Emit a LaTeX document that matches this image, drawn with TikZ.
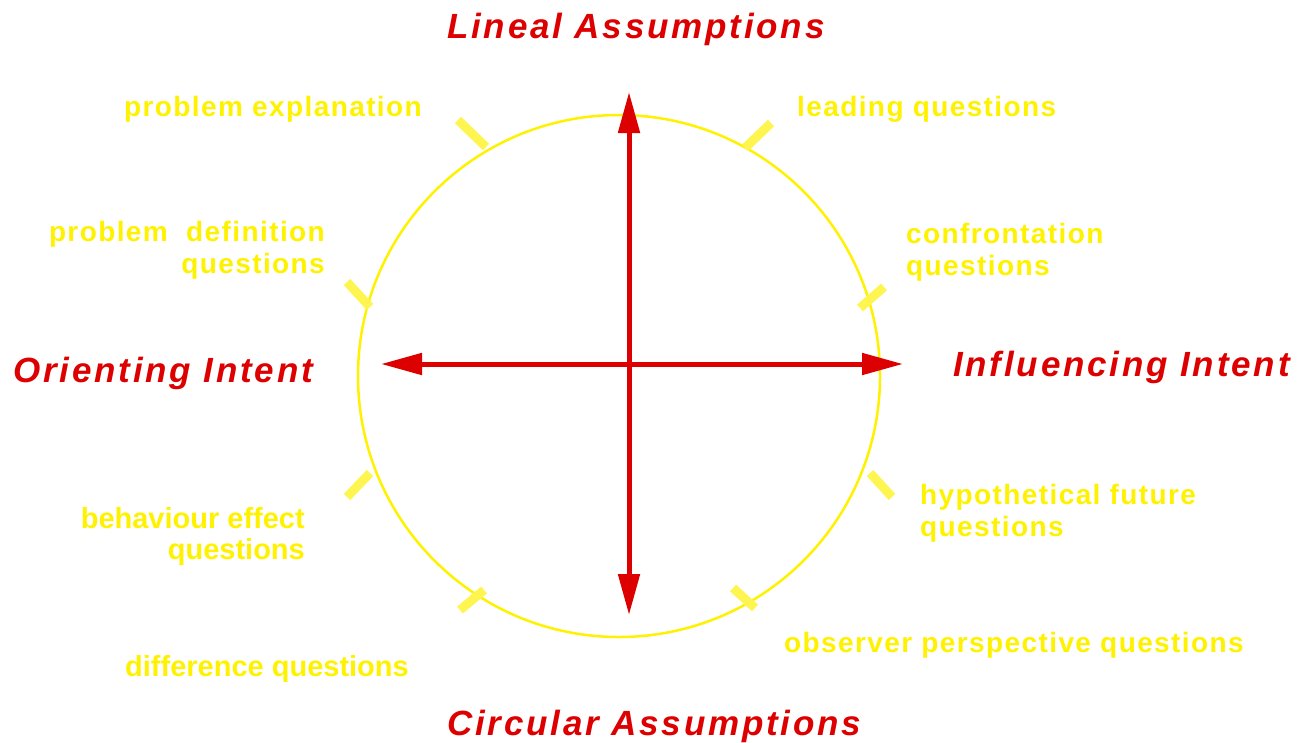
\documentclass[tikz,border=0pt]{standalone}
\usepackage{fontspec}
\setmainfont{Liberation Sans}
\newfontfamily\axisfont[LetterSpace=8]{Liberation Sans}
\newfontfamily\widefont[LetterSpace=5]{Liberation Sans}
\usepackage{xcolor}
\definecolor{axisred}{HTML}{DD0000}
\definecolor{ringyellow}{HTML}{FFF200}
\definecolor{tickyellow}{HTML}{FFF550}
\usetikzlibrary{positioning,arrows.meta}
\tikzset{
  axislabel/.style={text=axisred, inner sep=0pt, font=\fontsize{35}{40}\selectfont\axisfont\bfseries\itshape},
  qlabel/.style   ={text=ringyellow, inner sep=0pt, font=\fontsize{28}{32}\selectfont\widefont\bfseries},
  qlabeln/.style  ={text=ringyellow, inner sep=0pt, font=\fontsize{29}{31}\selectfont\bfseries},
  axisarr/.style  ={{Triangle[length=41pt,width=21pt]}-{Triangle[length=41pt,width=21pt]},
                    draw=axisred, line width=5pt},
  qmark/.style    ={draw=tickyellow, line width=9pt},
  ring/.style     ={circle, draw=ringyellow, line width=2.5pt, minimum size=522pt, inner sep=0pt},
}

\begin{document}
\begin{tikzpicture}[x=1pt, y=-1pt]
  \useasboundingbox (0,0) rectangle (1313,742);
  \node[ring] (wheel) at (619,376) {};
  % axes
  \coordinate (linealend)   at (629,92);
  \coordinate (circularend) at (629,615);
  \coordinate (orientend)   at (381,364);
  \coordinate (influend)    at (903,364);
  \draw[axisarr] (circularend) -- (linealend);
  \draw[axisarr] (orientend) -- (influend);
  \node[axislabel, anchor=base west] (lineal)   at (447,38)  {Lineal Assumptions};
  \node[axislabel, anchor=base west] (circular) at (447,735) {Circular Assumptions};
  \node[axislabel, anchor=base west] (orient)   at (13,382)  {Orienting Intent};
  \node[axislabel, anchor=base west] (influ)    at (953,376) {Influencing Intent};
  % question marks on the ring
  \draw[qmark] (486,147) -- (458,120);
  \draw[qmark] (745,148) -- (771,123);
  \draw[qmark] (370,307) -- (347,282);
  \draw[qmark] (860,308) -- (884,287);
  \draw[qmark] (370,473) -- (347,497);
  \draw[qmark] (870,473) -- (892,497);
  \draw[qmark] (484,590) -- (460,610);
  \draw[qmark] (733,588) -- (755,608);
  % question types (base = last line)
  \node[qlabel, anchor=base east] (pexpl) at (422,116) {problem explanation};
  \node[qlabel, anchor=base east, align=right] (pdef) at (325,273) {problem\ \ definition\\questions};
  \node[qlabel, anchor=base west] (lead) at (797,116) {leading questions};
  \node[qlabel, anchor=base west, align=left] (confr) at (906,275) {confrontation\\questions};
  \node[qlabeln, anchor=base east, align=right] (behav) at (305,559) {behaviour effect\\questions};
  \node[qlabeln, anchor=base west] (diff) at (125,676) {difference questions};
  \node[qlabel, anchor=base west, align=left] (hypo) at (920,536) {hypothetical future\\questions};
  \node[qlabel, anchor=base west] (obs) at (784,652) {observer perspective questions};
\end{tikzpicture}
\end{document}
